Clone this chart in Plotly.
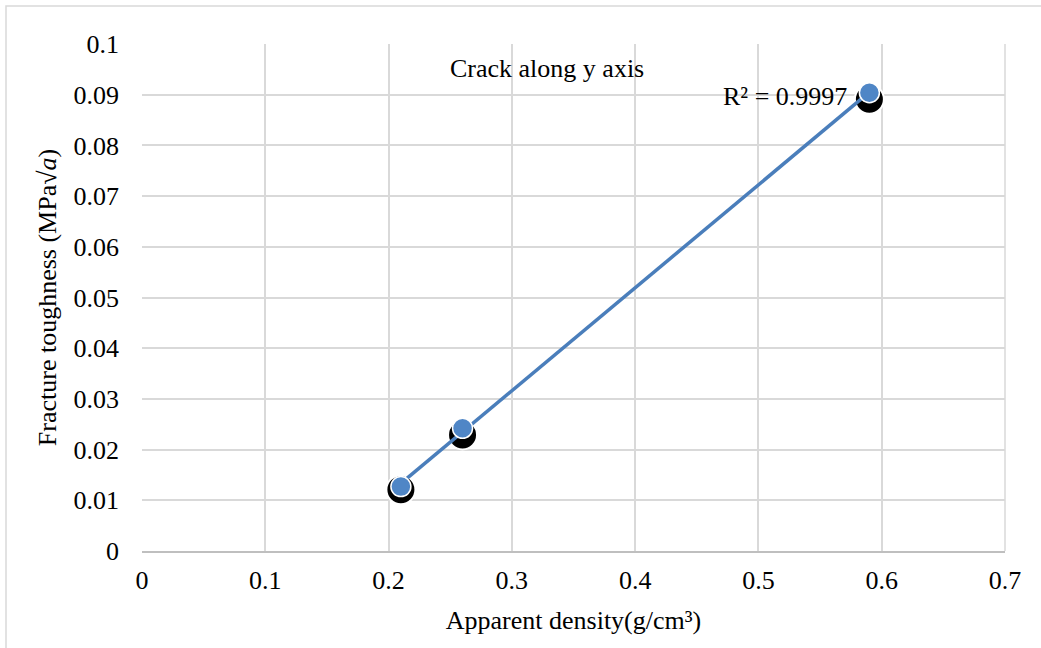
import numpy as np
import plotly.graph_objects as go

density = [0.21, 0.26, 0.59]
toughness_black = [0.0121, 0.0229, 0.0891]
toughness_blue = [0.0127, 0.0242, 0.0904]
x_ticks = [0, 0.1, 0.2, 0.3, 0.4, 0.5, 0.6, 0.7]
x_tick_labels = ["0", "0.1", "0.2", "0.3", "0.4", "0.5", "0.6", "0.7"]
y_ticks = [0, 0.01, 0.02, 0.03, 0.04, 0.05, 0.06, 0.07, 0.08, 0.09, 0.1]
y_tick_labels = ["0", "0.01", "0.02", "0.03", "0.04", "0.05", "0.06", "0.07", "0.08", "0.09", "0.1"]

slope, intercept = np.polyfit(density, toughness_blue, 1)
fit_x = [min(density), max(density)]
fit_y = [slope * v + intercept for v in fit_x]

FONT = "Liberation Serif, Times New Roman, serif"
FS = 26
BLUE = "#4a7ebb"

fig = go.Figure()
fig.add_trace(go.Scatter(
    x=density, y=toughness_black, mode="markers",
    marker=dict(size=29, color="black", line=dict(color="white", width=2)),
    showlegend=False, hoverinfo="skip"))
fig.add_trace(go.Scatter(
    x=fit_x, y=fit_y, mode="lines",
    line=dict(color=BLUE, width=3.5), showlegend=False))
fig.add_trace(go.Scatter(
    x=density, y=toughness_blue, mode="markers",
    marker=dict(size=20, color="#4f86c6", line=dict(color="white", width=1.5)),
    showlegend=False))

fig.add_annotation(x=(547 - 142) / 863, y=(551 - 68) / 507, xref="paper", yref="paper",
                   xanchor="center", yanchor="middle",
                   text="Crack along y axis", showarrow=False,
                   font=dict(family=FONT, size=FS, color="black"))
fig.add_annotation(x=(849 - 142) / 863, y=(551 - 97) / 507, xref="paper", yref="paper",
                   xanchor="right", yanchor="middle", text="R² = 0.9997", showarrow=False,
                   font=dict(family=FONT, size=FS, color="black"))

fig.add_shape(type="rect", xref="paper", yref="paper",
              x0=(6 - 142) / 863, x1=(1050 - 142) / 863,
              y0=(551 - 660) / 507, y1=(551 - 6) / 507,
              line=dict(color="#d9d9d9", width=1.5), fillcolor="rgba(0,0,0,0)",
              layer="below")
fig.add_shape(type="line", xref="paper", yref="paper", x0=1, x1=1, y0=0, y1=1,
              line=dict(color="#d9d9d9", width=1.5), layer="below")

fig.update_layout(
    width=1041, height=648,
    margin=dict(l=142, r=36, t=44, b=97),
    paper_bgcolor="white", plot_bgcolor="white",
    font=dict(family=FONT, size=FS, color="black"),
    xaxis=dict(range=[0, 0.7], tickvals=x_ticks, ticktext=x_tick_labels,
               showgrid=True, gridcolor="#d9d9d9", gridwidth=1.5,
               zeroline=False, showline=True, linecolor="#bfbfbf", linewidth=1.5,
               ticks="", ticklabelstandoff=5,
               title=dict(text="Apparent density(g/cm³)", standoff=17,
                          font=dict(family=FONT, size=FS)),
               tickfont=dict(family=FONT, size=FS)),
    yaxis=dict(range=[0, 0.1], tickvals=y_ticks, ticktext=y_tick_labels,
               showgrid=True, gridcolor="#d9d9d9", gridwidth=1.5,
               zeroline=False, showline=False, ticks="", ticklabelstandoff=22,
               title=dict(text="Fracture toughness (MPa√<i>a</i>)", standoff=9,
                          font=dict(family=FONT, size=FS)),
               tickfont=dict(family=FONT, size=FS)),
)

fig.write_html("out.html")
